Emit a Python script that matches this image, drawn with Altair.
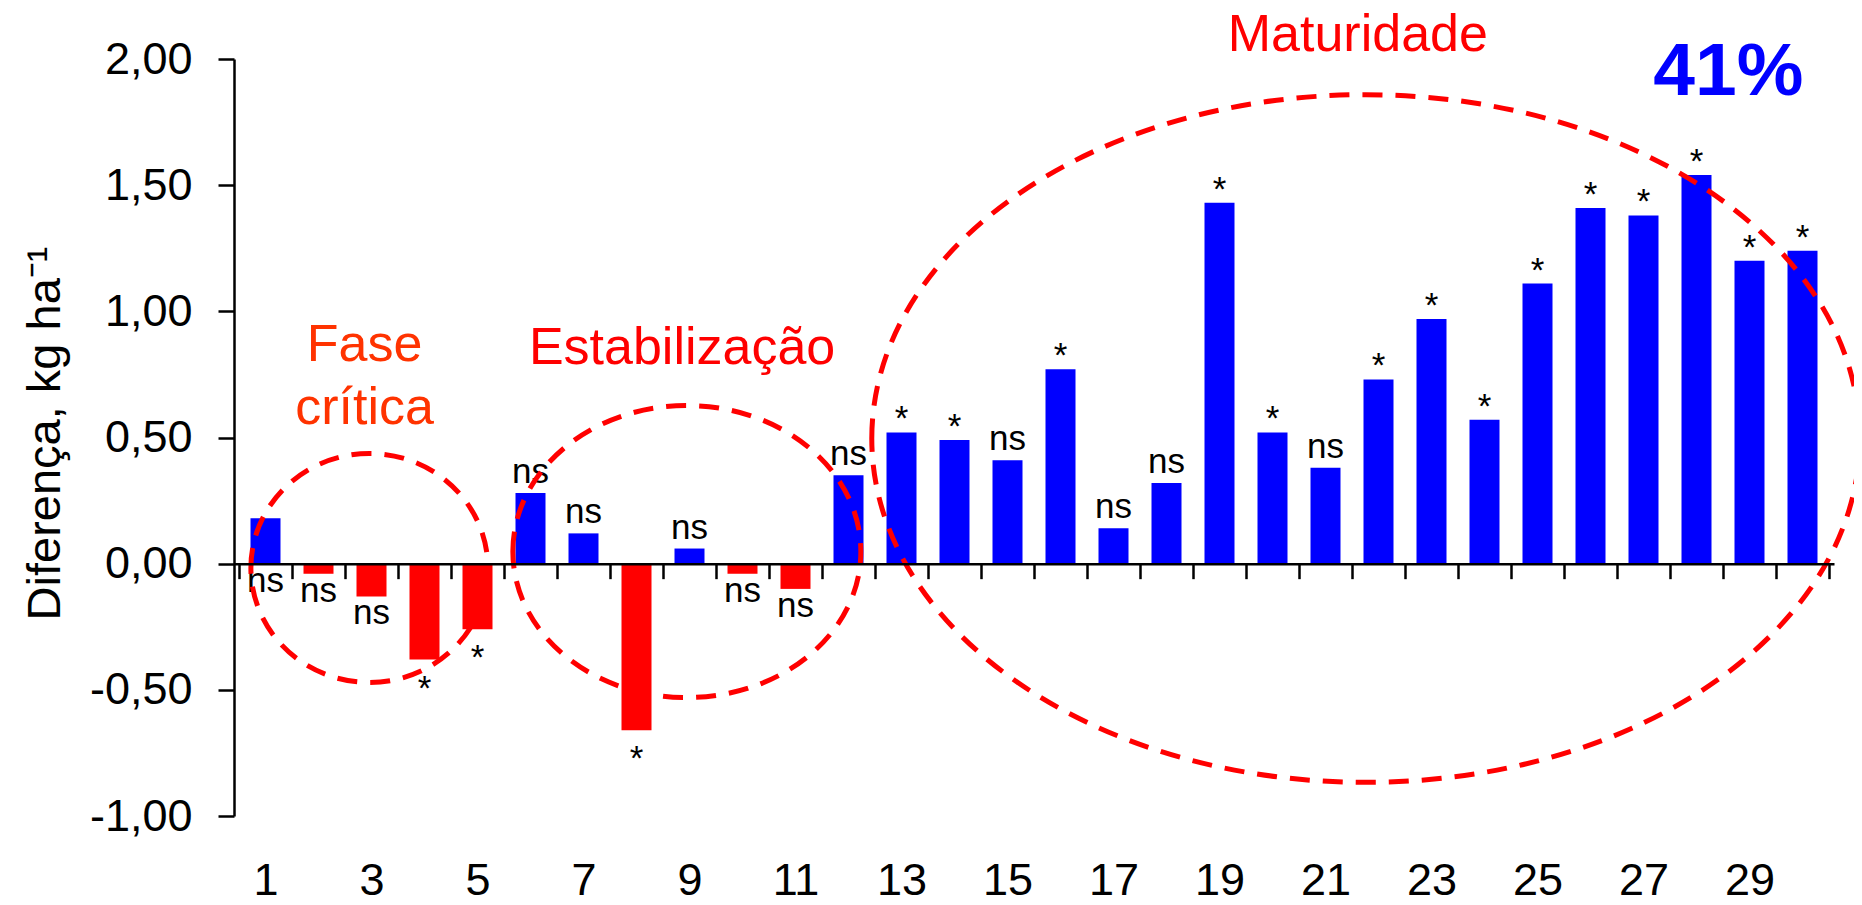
import altair as alt
import pandas as pd

# ---------------- data ----------------
categories = list(range(1, 31))
values = [0.18, -0.04, -0.13, -0.38, -0.26, 0.28, 0.12, -0.66, 0.06, -0.04,
          -0.10, 0.35, 0.52, 0.49, 0.41, 0.77, 0.14, 0.32, 1.43, 0.52,
          0.38, 0.73, 0.97, 0.57, 1.11, 1.41, 1.38, 1.54, 1.20, 1.24]
significance = ["ns", "ns", "ns", "*", "*", "ns", "ns", "*", "ns", "ns",
                "ns", "ns", "*", "*", "ns", "*", "ns", "ns", "*", "*",
                "ns", "*", "*", "*", "*", "*", "*", "*", "*", "*"]
label_side = ["below"] * 5 + ["above", "above", "below", "above", "below", "below"] + ["above"] * 19

x_label_values = [1, 3, 5, 7, 9, 11, 13, 15, 17, 19, 21, 23, 25, 27, 29]
y_tick_values = [-1.0, -0.5, 0.0, 0.5, 1.0, 1.5, 2.0]
y_title = "Diferença, kg ha⁻¹"

# phase annotations (text, x, y in data units)
phase_texts = [["Fase", "crítica"], "Estabilização", "Maturidade"]
phase_x = [2.87, 8.86, 21.61]
phase_y = [0.802, 0.793, 2.030]
phase_colors = ["#FF3300", "#FF0000", "#FF0000"]

pct_text = "41%"
pct_x, pct_y = 28.60, 1.858

# ellipses (centre in data units)
ell_cx = [2.96, 8.95, 21.76]
ell_cy = [-0.017, 0.048, 0.496]
ell_rx_px = [118.5, 174.0, 494.0]
ell_ratio = [0.966, 0.839, 0.696]

FONT = "Liberation Sans"

df = pd.DataFrame({"cat": categories, "value": values, "sig": significance, "side": label_side})
df["anchor"] = [max(v, 0) if s == "above" else min(v, 0) for v, s in zip(values, label_side)]
boundaries = [c - 0.5 for c in categories] + [categories[-1] + 0.5]
one = pd.DataFrame({"a": [0]})

W, H = 1600, 757
xs = alt.Scale(domain=[0.5, 30.5], nice=False, zero=False)
ys = alt.Scale(domain=[-1, 2], nice=False, zero=False)

y_label_expr = "(datum.value < 0 ? '-' : '') + replace(format(abs(datum.value), '.2f'), '.', ',')"

bars = alt.Chart(df).mark_bar(size=30).encode(
    x=alt.X("cat:Q", scale=xs, axis=alt.Axis(
        values=x_label_values, format="d", domain=False, ticks=False, grid=False,
        labelFontSize=45, labelPadding=42, labelColor="black", labelFont=FONT,
        labelFlush=False, labelOverlap=False, title=None, orient="bottom")),
    y=alt.Y("value:Q", scale=ys, axis=alt.Axis(
        values=y_tick_values, labelExpr=y_label_expr, grid=False,
        domainColor="black", domainWidth=2.5, tickColor="black", tickWidth=2.5,
        tickSize=16, labelFontSize=45, labelPadding=26, labelColor="black",
        labelFont=FONT, labelFlush=False, labelOverlap=False,
        title=y_title, titleFont=FONT, titleFontSize=47, titleFontWeight="normal",
        titleColor="black", titleAngle=270, titleX=-175, titleY=374,
        titleAlign="center", titleBaseline="alphabetic")),
    y2=alt.datum(0),
    color=alt.condition("datum.value >= 0", alt.value("#0000FF"), alt.value("#FF0000")),
)

tick_axis = alt.Chart(df).mark_point(opacity=0).encode(
    x=alt.X("cat:Q", scale=xs, axis=alt.Axis(
        values=boundaries, orient="bottom", offset=-H / 3, labels=False,
        domain=True, domainColor="black", domainWidth=2.5, ticks=True,
        tickSize=15, tickWidth=2.5, tickColor="black", grid=False, title=None,
        zindex=1)),
    y=alt.Y("value:Q", scale=ys, axis=None),
)


def sig_layer(side, sig, dy):
    return alt.Chart(df).transform_filter(
        f"datum.side == '{side}' && datum.sig == '{sig}'"
    ).mark_text(dy=dy, fontSize=35, font=FONT, color="black",
                baseline="alphabetic", align="center").encode(
        x=alt.X("cat:Q", scale=xs, axis=None),
        y=alt.Y("anchor:Q", scale=ys, axis=None),
        text="sig:N",
    )


sig_layers = [
    sig_layer("above", "ns", -10),
    sig_layer("above", "*", -2),
    sig_layer("below", "ns", 28),
    sig_layer("below", "*", 40),
]


def note(text, x, y, size, color, weight="normal"):
    return alt.Chart(one).mark_text(
        text=text, fontSize=size, font=FONT, color=color, fontWeight=weight,
        baseline="alphabetic", align="center", lineHeight=63,
    ).encode(
        x=alt.X(datum=x, scale=xs, axis=None),
        y=alt.Y(datum=y, scale=ys, axis=None),
    )


notes = [note(t, x, y, 52, c) for t, x, y, c in zip(phase_texts, phase_x, phase_y, phase_colors)]
notes.append(note(pct_text, pct_x, pct_y, 75, "#0000FF", "bold"))


def ellipse_path(r):
    k = 0.5523
    return (f"M -1 0 C -1 {-k*r:.4f} {-k:.4f} {-r:.4f} 0 {-r:.4f} "
            f"C {k:.4f} {-r:.4f} 1 {-k*r:.4f} 1 0 "
            f"C 1 {k*r:.4f} {k:.4f} {r:.4f} 0 {r:.4f} "
            f"C {-k:.4f} {r:.4f} -1 {k*r:.4f} -1 0 Z")


ellipses = []
for cx, cy, rx, ratio in zip(ell_cx, ell_cy, ell_rx_px, ell_ratio):
    ellipses.append(
        alt.Chart(one).mark_point(
            shape=ellipse_path(ratio), size=(2 * rx) ** 2, filled=False,
            color="#FF0000", stroke="#FF0000", strokeWidth=5,
            strokeDash=[20, 13], opacity=1,
        ).encode(
            x=alt.X(datum=cx, scale=xs, axis=None),
            y=alt.Y(datum=cy, scale=ys, axis=None),
        )
    )

chart = alt.layer(
    bars, tick_axis, *sig_layers, *notes, *ellipses
).resolve_axis(
    x="independent", y="independent"
).properties(
    width=W, height=H,
    padding={"left": 226, "top": 51, "right": 20, "bottom": 81},
    autosize=alt.AutoSizeParams(type="none"),
    background="white",
).configure_view(strokeWidth=0)

chart.save("out.html", embed_options={"renderer": "svg", "actions": False})
